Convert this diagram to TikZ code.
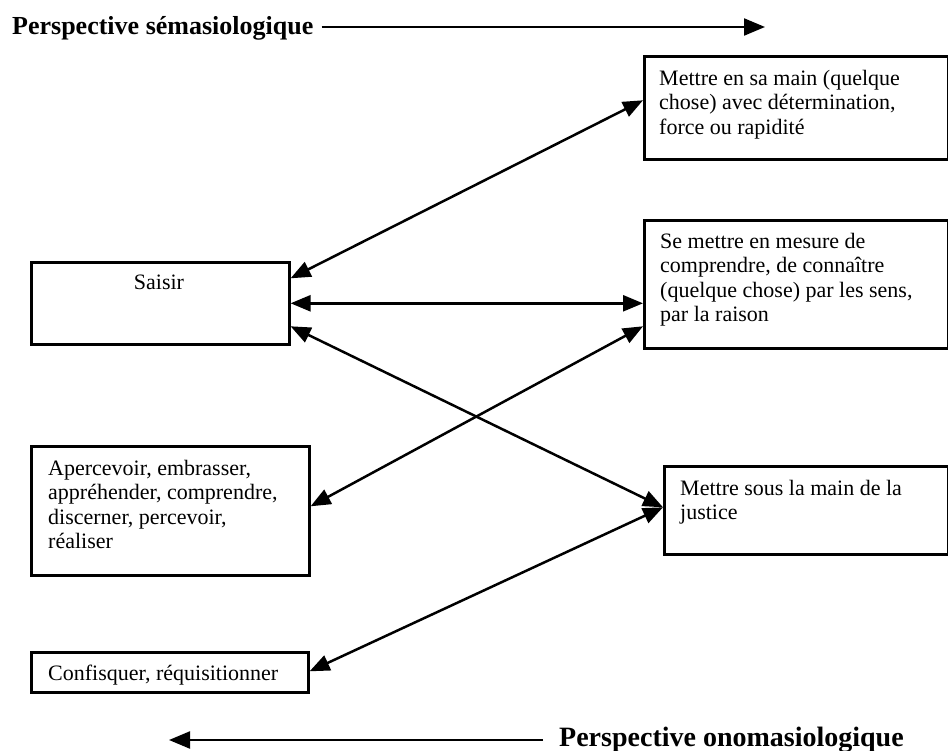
\documentclass[tikz,border=0pt]{standalone}
\usepackage{fontspec}
\setmainfont{Liberation Serif}
\usetikzlibrary{arrows.meta}
\begin{document}
\begin{tikzpicture}[x=1pt,y=-1pt,
  box/.style={draw, line width=2.6pt, inner sep=0pt, anchor=north west},
  boxtext/.style={inner sep=0pt, align=left, anchor=north west,
    font=\fontsize{22}{24.3}\selectfont},
  link/.style={line width=2.5pt,
    {Triangle[length=20pt,width=16pt]}-{Triangle[length=20pt,width=16pt]}},
  persp/.style={inner sep=0pt, anchor=base west},
  dir/.style={line width=2.2pt, -{Triangle[length=21pt,width=17pt]}}
]
\useasboundingbox (0,0) rectangle (948,751);

% heading arrows
\node[persp, font=\fontsize{26}{30}\selectfont\bfseries] (sema) at (12,35)
  {Perspective sémasiologique};
\coordinate (semaEnd) at (765,27);
\draw[dir] ([xshift=8pt]sema.east |- semaEnd) -- (semaEnd);

\node[persp, font=\fontsize{28}{32}\selectfont\bfseries] (onoma) at (559,746)
  {Perspective onomasiologique};
\coordinate (onomaEnd) at (169,740);
\draw[dir] ([xshift=-16pt]onoma.west |- onomaEnd) -- (onomaEnd);

% boxes
\node[box, minimum width=258pt, minimum height=82pt] (saisir) at (30,261) {};
\node[font=\fontsize{22}{24.3}\selectfont, inner sep=0pt, anchor=base] (saisirT) at (159,290) {Saisir};

\node[box, minimum width=304pt, minimum height=103pt] (sem1) at (643,55) {};
\node[boxtext] (sem1T) at (659,70)
  {Mettre en sa main (quelque\\chose) avec détermination,\\force ou rapidité};

\node[box, minimum width=304pt, minimum height=128pt] (sem2) at (643,219) {};
\node[boxtext] (sem2T) at (660,233)
  {Se mettre en mesure de\\comprendre, de connaître\\(quelque chose) par les sens,\\par la raison};

\node[box, minimum width=284pt, minimum height=88pt] (sem3) at (663,465) {};
\node[boxtext] (sem3T) at (680,480)
  {Mettre sous la main de la\\justice};

\node[box, minimum width=278pt, minimum height=129pt] (aperc) at (30,445) {};
\node[boxtext] (apercT) at (48,460)
  {Apercevoir, embrasser,\\appréhender, comprendre,\\discerner, percevoir,\\réaliser};

\node[box, minimum width=277pt, minimum height=40pt] (confis) at (30,651) {};
\node[font=\fontsize{22}{24.3}\selectfont, inner sep=0pt, anchor=base west] (confisT) at (48,680)
  {Confisquer, réquisitionner};

% links
\draw[link] ([yshift=25pt]saisir.east) -- ([yshift=7.5pt]sem1.west);
\draw[link] (saisir.east) -- (saisir.east -| sem2.west);
\draw[link] ([yshift=-23pt]saisir.east) -- ([yshift=3pt]sem3.west);
\draw[link] ([yshift=4.5pt]aperc.east) -- ([yshift=-42pt]sem2.west);
\draw[link] ([yshift=1pt]confis.east) -- ([yshift=3pt]sem3.west);
\end{tikzpicture}
\end{document}
